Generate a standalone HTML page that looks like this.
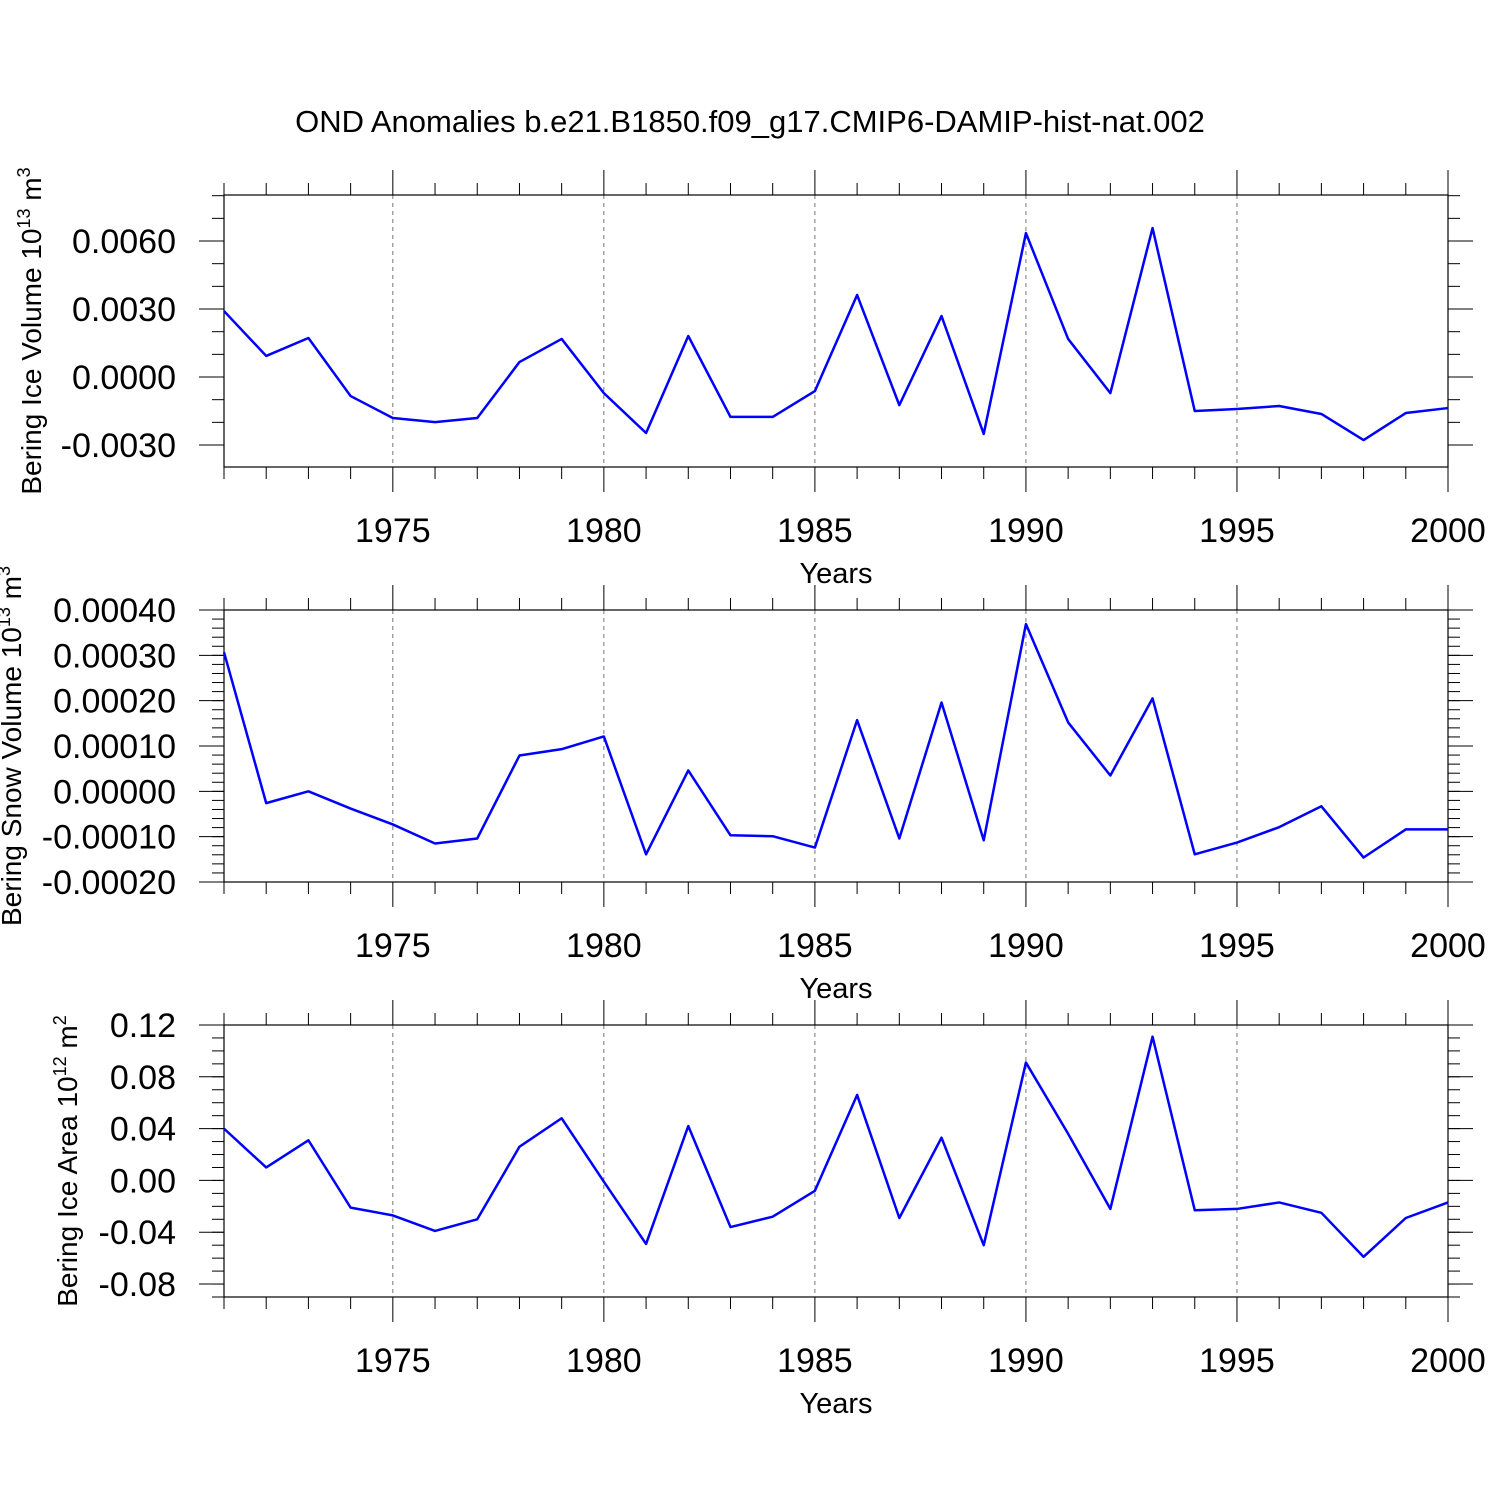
<!DOCTYPE html>
<html><head><meta charset="utf-8"><style>
html,body{margin:0;padding:0;background:#fff;}
svg{display:block;font-family:"Liberation Sans",sans-serif;}
</style></head><body>
<svg id="c" width="1500" height="1500" xmlns="http://www.w3.org/2000/svg">
<text x="750" y="132" font-size="31" text-anchor="middle">OND Anomalies b.e21.B1850.f09_g17.CMIP6-DAMIP-hist-nat.002</text>
</svg>
<script>
const years=[1971,1972,1973,1974,1975,1976,1977,1978,1979,1980,1981,1982,1983,1984,1985,1986,1987,1988,1989,1990,1991,1992,1993,1994,1995,1996,1997,1998,1999,2000];
const iceVolume=[0.00291,0.00093,0.00172,-0.00084,-0.00181,-0.00199,-0.00181,0.00066,0.00168,-0.00071,-0.00247,0.00181,-0.00176,-0.00176,-0.00062,0.00362,-0.00124,0.00269,-0.00251,0.00635,0.00168,-0.00071,0.00657,-0.0015,-0.00141,-0.00128,-0.00163,-0.00278,-0.00159,-0.00137];
const snowVolume=[0.000307,-0.000026,0,-0.000038,-0.000073,-0.000115,-0.000104,0.000079,0.000093,0.000121,-0.000139,0.000046,-0.000097,-0.000099,-0.000124,0.000157,-0.000104,0.000196,-0.000108,0.000369,0.000152,0.000035,0.000205,-0.000139,-0.000113,-0.000079,-0.000033,-0.000146,-0.000084,-0.000084];
const iceArea=[0.040,0.010,0.031,-0.021,-0.027,-0.039,-0.030,0.026,0.048,-0.001,-0.049,0.042,-0.036,-0.028,-0.008,0.066,-0.029,0.033,-0.050,0.091,0.036,-0.022,0.111,-0.023,-0.022,-0.017,-0.025,-0.059,-0.029,-0.017];
const xMajor=[1975,1980,1985,1990,1995,2000];
const p1Ticks=[-0.003,0,0.003,0.006];const p1Labels=["-0.0030","0.0000","0.0030","0.0060"];
const p2Ticks=[-0.0002,-0.0001,0,0.0001,0.0002,0.0003,0.0004];const p2Labels=["-0.00020","-0.00010","0.00000","0.00010","0.00020","0.00030","0.00040"];
const p3Ticks=[-0.08,-0.04,0,0.04,0.08,0.12];const p3Labels=["-0.08","-0.04","0.00","0.04","0.08","0.12"];

const svg=document.getElementById('c');const NS="http://www.w3.org/2000/svg";
function mk(t,a,p){const e=document.createElementNS(NS,t);for(const k in a)e.setAttribute(k,a[k]);(p||svg).appendChild(e);return e;}
const X0=224,X1=1448;
function xs(y){return X0+(y-1971)/(2000-1971)*(X1-X0);}
function panel(name,top,bot,vmin,vmax,data,ticks,labels,minorStep,titleMain,exp,unit,titleX){
  const g=mk('g',{});
  
  
  const ys=v=>bot-(v-vmin)/(vmax-vmin)*(bot-top);
  xMajor.forEach(y=>{if(y<2000){const l=mk('line',{x1:xs(y),x2:xs(y),y1:top,y2:bot,stroke:'#777','stroke-width':1,'stroke-dasharray':'4,4'},g);
    
    }});
  for(let y=1971;y<=2000;y++){const maj=xMajor.includes(y);const L=maj?25:12;
    mk('line',{x1:xs(y),x2:xs(y),y1:top-L,y2:top,stroke:'#000','stroke-width':1},g);
    mk('line',{x1:xs(y),x2:xs(y),y1:bot,y2:bot+L,stroke:'#000','stroke-width':1},g);}
  xMajor.forEach(y=>{const t=mk('text',{x:xs(y),y:bot+75,'font-size':34,'text-anchor':'middle'},g);t.textContent=y;
    
    });
  const xt=mk('text',{x:836,y:bot+116,'font-size':29,'text-anchor':'middle'},g);xt.textContent='Years';
  
  
  for(let v=Math.ceil(vmin/minorStep-1e-6)*minorStep;v<=vmax+1e-12;v+=minorStep){const yy=ys(v);
    mk('line',{x1:X0-12,x2:X0,y1:yy,y2:yy,stroke:'#000','stroke-width':1},g);
    mk('line',{x1:X1,x2:X1+12,y1:yy,y2:yy,stroke:'#000','stroke-width':1},g);}
  ticks.forEach((v,i)=>{const yy=ys(v);
    mk('line',{x1:X0-25,x2:X0,y1:yy,y2:yy,stroke:'#000','stroke-width':1},g);
    mk('line',{x1:X1,x2:X1+25,y1:yy,y2:yy,stroke:'#000','stroke-width':1},g);
    const t=mk('text',{x:X0-48,y:yy+12,'font-size':34,'text-anchor':'end'},g);t.textContent=labels[i];
    
    });
  mk('rect',{x:X0,y:top,width:X1-X0,height:bot-top,fill:'none',stroke:'#000','stroke-width':1.2},g);
  const pts=data.map((v,i)=>xs(years[i])+','+ys(v)).join(' ');
  const pl=mk('polyline',{points:pts,fill:'none',stroke:'#0000ff','stroke-width':2.5,'stroke-linejoin':'round'},g);
  
  
  const cy=(top+bot)/2;
  const yt=mk('text',{x:0,y:0,'font-size':28,'text-anchor':'middle',transform:`translate(${titleX},${cy}) rotate(-90)`},g);
  
  
  const s1=mk('tspan',{},yt);s1.textContent=titleMain+' 10';
  const s2=mk('tspan',{dy:-11,'font-size':18},yt);s2.textContent=exp;
  const s3=mk('tspan',{dy:11},yt);s3.textContent=' m';
  const s4=mk('tspan',{dy:-11,'font-size':18},yt);s4.textContent=unit;
}
panel('ice-volume',195,467,-0.00397,0.00803,iceVolume,p1Ticks,p1Labels,0.001,'Bering Ice Volume','13','3',41);
panel('snow-volume',610,882,-0.0002,0.0004,snowVolume,p2Ticks,p2Labels,0.00002,'Bering Snow Volume','13','3',21);
panel('ice-area',1025,1297,-0.09,0.12,iceArea,p3Ticks,p3Labels,0.01,'Bering Ice Area','12','2',77);
</script>
</body></html>
